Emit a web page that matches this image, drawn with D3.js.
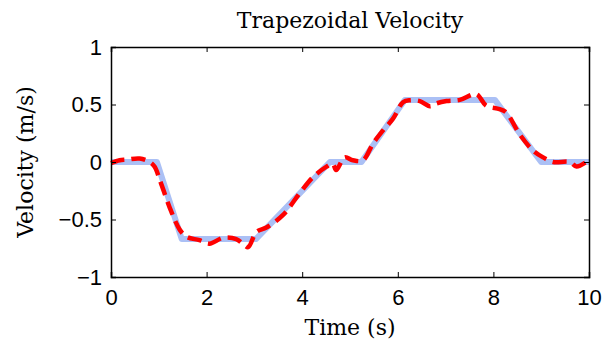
<!DOCTYPE html>
<html>
<head>
<meta charset="utf-8">
<script src="https://cdn.jsdelivr.net/npm/d3@7"></script>
<style>
  body { margin: 0; background: #fff; }
</style>
</head>
<body>
<script>
// reference trapezoid profile
const refTime = [0, 0.96, 1.48, 3.03, 4.58, 5.24, 6.15, 8.03, 9.0, 10]
const refVel = [0, 0, -0.67, -0.67, 0, 0, 0.54, 0.54, 0, 0]

// measured velocity (dashed red)
const measTime = [0, 0.18, 0.32, 0.6, 0.81, 0.91, 1.05, 1.26, 1.44, 1.58, 1.85, 2.06, 2.34, 2.62, 2.76, 2.87,
    3.04, 3.25, 3.6, 3.95, 4.23, 4.51, 4.64, 4.71, 4.89, 5.06, 5.27, 5.48, 5.69, 5.9, 6.11, 6.25,
    6.46, 6.67, 6.81, 7.02, 7.3, 7.64, 7.85, 8.13, 8.27, 8.55, 8.83, 9.04, 9.25, 9.6, 9.74, 9.98]
const measVel = [-0.01, 0.015, 0.02, 0.03, 0.0, -0.04, -0.19, -0.43, -0.59, -0.65, -0.68, -0.71, -0.66, -0.67, -0.71, -0.74,
    -0.61, -0.57, -0.46, -0.27, -0.13, -0.04, -0.015, -0.07, 0.04, 0.015, 0.015, 0.16, 0.275, 0.377, 0.52, 0.537,
    0.53, 0.485, 0.51, 0.53, 0.54, 0.59, 0.49, 0.46, 0.43, 0.24, 0.1, 0.04, 0.0, 0.0, -0.04, 0.01]

const xTicks = [0, 2, 4, 6, 8, 10]
const yTicks = [-1, -0.5, 0, 0.5, 1]

const width = 606
const height = 347
const margin = { top: 47, right: 17, bottom: 70, left: 111 }

const x = d3.scaleLinear().domain([0, 10]).range([margin.left, width - margin.right])
const y = d3.scaleLinear().domain([-1, 1]).range([height - margin.bottom, margin.top])

const svg = d3.select("body").append("svg")
    .attr("width", width)
    .attr("height", height)
    .attr("xmlns", "http://www.w3.org/2000/svg")

const tickFmt = d => (d < 0 ? "\u2212" : "") + Math.abs(d)

// curves
const refData = refTime.map((t, i) => [t, refVel[i]])
const measData = measTime.map((t, i) => [t, measVel[i]])

svg.append("path")
    .datum(refData)
    .attr("fill", "none")
    .attr("stroke", "#abc0f5")
    .attr("stroke-width", 6)
    .attr("stroke-linejoin", "round")
    .attr("d", d3.line().x(d => x(d[0])).y(d => y(d[1])))

svg.append("path")
    .datum(measData)
    .attr("fill", "none")
    .attr("stroke", "#ff0000")
    .attr("stroke-width", 4.5)
    .attr("stroke-dasharray", "14,7")
    .attr("d", d3.line().curve(d3.curveCatmullRom).x(d => x(d[0])).y(d => y(d[1])))

// axes, ticks pointing inward on all four sides
svg.append("g")
    .attr("transform", `translate(0,${height - margin.bottom})`)
    .call(d3.axisBottom(x).tickValues(xTicks).tickSize(-5).tickPadding(12).tickFormat(tickFmt))
svg.append("g")
    .attr("transform", `translate(${margin.left},0)`)
    .call(d3.axisLeft(y).tickValues(yTicks).tickSize(-5).tickPadding(9).tickFormat(tickFmt))
svg.append("g")
    .attr("transform", `translate(0,${margin.top})`)
    .call(d3.axisTop(x).tickValues(xTicks).tickSize(-5).tickFormat(""))
svg.append("g")
    .attr("transform", `translate(${width - margin.right},0)`)
    .call(d3.axisRight(y).tickValues(yTicks).tickSize(-5).tickFormat(""))

svg.selectAll(".domain").attr("stroke", "#000").attr("stroke-width", 1.5)
svg.selectAll(".tick line").attr("stroke", "#000")
svg.selectAll(".tick text")
    .style("font-family", "'Liberation Sans', Arial, sans-serif")
    .style("font-size", "22px")
    .attr("fill", "#000")

// labels
const serif = "'DejaVu Serif', 'Liberation Serif', serif"
svg.append("text")
    .attr("x", (margin.left + width - margin.right) / 2)
    .attr("y", 28)
    .attr("text-anchor", "middle")
    .style("font-family", serif)
    .style("font-size", "22px")
    .text("Trapezoidal Velocity")

svg.append("text")
    .attr("x", (margin.left + width - margin.right) / 2)
    .attr("y", 335)
    .attr("text-anchor", "middle")
    .style("font-family", serif)
    .style("font-size", "22px")
    .text("Time (s)")

svg.append("text")
    .attr("transform", `translate(33,${(margin.top + height - margin.bottom) / 2}) rotate(-90)`)
    .attr("text-anchor", "middle")
    .style("font-family", serif)
    .style("font-size", "22px")
    .text("Velocity (m/s)")
</script>
</body>
</html>
